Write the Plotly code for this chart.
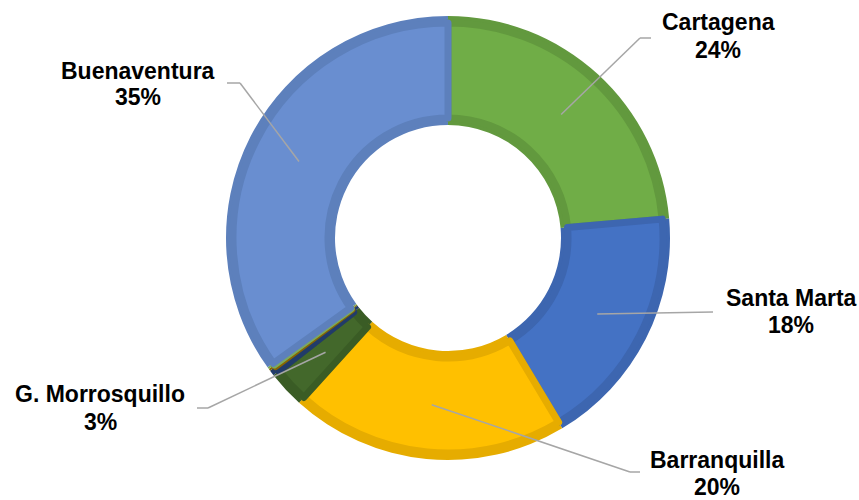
import math
import plotly.graph_objects as go

# ---- data ----
ports = ["Cartagena", "Santa Marta", "Barranquilla", "G. Morrosquillo",
         "Otro 1", "Otro 2", "Otro 3", "Buenaventura"]
shares = [23.6, 17.8, 20.3, 2.7, 0.4, 0.15, 0.15, 34.9]
labelled = ["Cartagena", "Santa Marta", "Barranquilla", "G. Morrosquillo", "Buenaventura"]

fill_colors = ["#70AD47", "#4472C4", "#FFC000", "#43682B",
               "#264478", "#997300", "#8CC168", "#698ED0"]
edge_colors = ["#62993E", "#3D66B0", "#E6AC00", "#3A5C25",
               "#213B69", "#876500", "#7CAA5C", "#5D80BC"]

W, H = 859, 500
CX, CY, R_OUT, R_IN = 448, 238, 222, 113
INSET = 7

def dom(r):
    return dict(x=[(CX - r) / W, (CX + r) / W], y=[1 - (CY + r) / H, 1 - (CY - r) / H])

fig = go.Figure()
fig.add_trace(go.Pie(labels=ports, values=shares, sort=False, direction="clockwise",
                     rotation=0, hole=R_IN / R_OUT, domain=dom(R_OUT),
                     marker=dict(colors=edge_colors, line=dict(width=0)),
                     textinfo="none", hoverinfo="skip", showlegend=False))
r2 = R_OUT - INSET
fig.add_trace(go.Pie(labels=ports, values=shares, sort=False, direction="clockwise",
                     rotation=0, hole=(R_IN + INSET) / r2, domain=dom(r2),
                     marker=dict(colors=fill_colors, line=dict(color=edge_colors, width=7)),
                     textinfo="none", hoverinfo="skip", showlegend=False))

# label layout (name centre, percent centre, leader elbow, leader end)
label_pos = {
    "Cartagena":       dict(x=718, yn=22, yp=50, elbow=(640, 38), end=(651, 38)),
    "Santa Marta":     dict(x=791, yn=298, yp=325, elbow=(713, 312), end=(713, 312)),
    "Barranquilla":    dict(x=717, yn=460, yp=487, elbow=(630, 472), end=(640, 472)),
    "G. Morrosquillo": dict(x=100, yn=394, yp=422, elbow=(208, 408), end=(197, 408)),
    "Buenaventura":    dict(x=138, yn=71, yp=97, elbow=(240, 83), end=(227, 83)),
}

total = sum(shares)
cum = 0.0
R_MID = (R_OUT + R_IN) / 2
shapes, annots = [], []
for name, v in zip(ports, shares):
    mid = (cum + v / 2) / total * 2 * math.pi
    cum += v
    if name not in labelled:
        continue
    p = label_pos[name]
    sx = CX + R_MID * math.sin(mid)
    sy = CY - R_MID * math.cos(mid)
    pts = [(sx, sy), p["elbow"], p["end"]]
    for (x0, y0), (x1, y1) in zip(pts[:-1], pts[1:]):
        if (x0, y0) == (x1, y1):
            continue
        shapes.append(dict(type="line", xref="paper", yref="paper",
                           x0=x0 / W, y0=1 - y0 / H, x1=x1 / W, y1=1 - y1 / H,
                           line=dict(color="#A6A6A6", width=1.5)))
    pct = round(v / total * 100)
    for txt, yy in ((name, p["yn"]), (f"{pct}%", p["yp"])):
        annots.append(dict(text=f"<b>{txt}</b>", x=p["x"] / W, y=1 - yy / H,
                           xref="paper", yref="paper", xanchor="center", yanchor="middle",
                           showarrow=False,
                           font=dict(family="Liberation Sans, Arial, sans-serif", size=23,
                                     color="#000000")))

fig.update_layout(width=W, height=H, margin=dict(l=0, r=0, t=0, b=0),
                  paper_bgcolor="white", plot_bgcolor="white",
                  shapes=shapes, annotations=annots, showlegend=False)
fig.write_html("out.html", config={"displayModeBar": False},
               post_script="document.body.style.margin='0';document.body.style.overflow='hidden';")
